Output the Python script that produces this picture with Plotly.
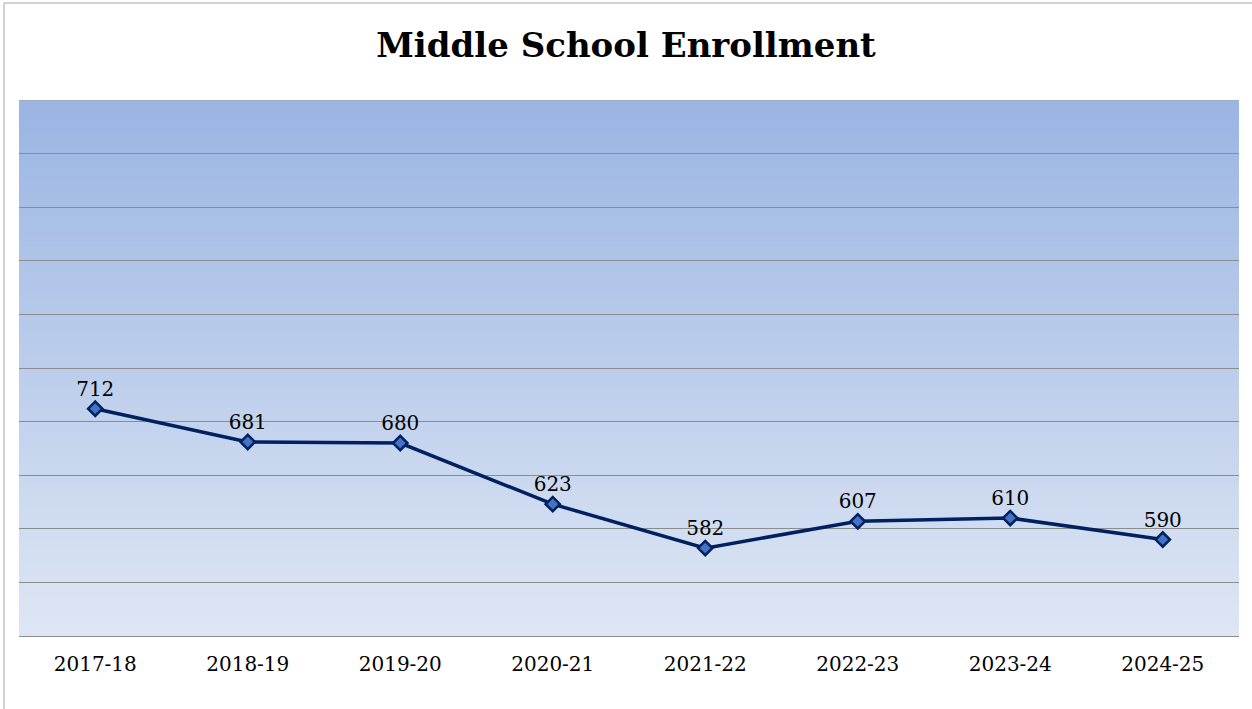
import plotly.graph_objects as go

years = ["2017-18", "2018-19", "2019-20", "2020-21", "2021-22", "2022-23", "2023-24", "2024-25"]
enrollment = [712, 681, 680, 623, 582, 607, 610, 590]

W, H = 1252, 709
ML, MR, MT, MB = 19, 13, 100, 73

FONT = "Georgia, 'DejaVu Serif', serif"

fig = go.Figure()
fig.add_trace(go.Scatter(
    x=years, y=enrollment,
    mode="lines+markers+text",
    text=[str(v) for v in enrollment],
    textposition="top center",
    textfont=dict(family=FONT, size=20, color="#000000"),
    line=dict(color="#002060", width=3.5),
    marker=dict(symbol="diamond", size=11, color="#4472C4",
                line=dict(color="#002060", width=2.5)),
    cliponaxis=False,
    hoverinfo="x+y",
))

# gradient plot background (overlapping bands to avoid seams)
top = (154, 181, 227)
bot = (222, 230, 244)
N = 80
shapes = []
for i in range(N):
    t = i / (N - 1)
    c = tuple(round(top[k] + (bot[k] - top[k]) * t) for k in range(3))
    y1 = 1 - i / N
    y0 = max(0, 1 - (i + 1) / N - 0.01)
    shapes.append(dict(type="rect", xref="x domain", yref="y domain",
                       x0=0, x1=1, y0=y0, y1=y1,
                       fillcolor="rgb(%d,%d,%d)" % c, line=dict(width=0),
                       layer="below"))

pw = W - ML - MR
ph = H - MT - MB
shapes.append(dict(type="rect", xref="paper", yref="paper",
                   x0=(4 - ML) / pw, x1=(1262 - ML) / pw,
                   y0=-(720 - (H - MB)) / ph, y1=((H - MB) - 3) / ph,
                   line=dict(color="#A6A6A6", width=1), fillcolor="rgba(0,0,0,0)",
                   layer="above"))

fig.update_layout(
    width=W, height=H,
    margin=dict(l=ML, r=MR, t=MT, b=MB),
    paper_bgcolor="white",
    plot_bgcolor="rgba(0,0,0,0)",
    showlegend=False,
    shapes=shapes,
    title=dict(text="<b>Middle School Enrollment</b>", x=0.5, xanchor="center",
               y=1 - 45 / H, yanchor="middle",
               font=dict(family=FONT, size=34, color="#000000")),
    xaxis=dict(range=[-0.5, 7.5], showgrid=False, zeroline=False,
               showline=True, linecolor="#8C8C8C", linewidth=1,
               ticks="", tickfont=dict(family=FONT, size=20, color="#000000"),
               ticklabelstandoff=10),
    yaxis=dict(range=[500, 1000], dtick=50, showgrid=True, gridcolor="#8C8C8C",
               gridwidth=1, zeroline=False, showticklabels=False,
               showline=False),
)
fig.add_hline(y=1000, line=dict(color="#A6A6A6", width=1))

fig.write_html("out.html", config={"displayModeBar": False},
               post_script="document.body.style.margin='0';document.body.style.overflow='hidden';")
